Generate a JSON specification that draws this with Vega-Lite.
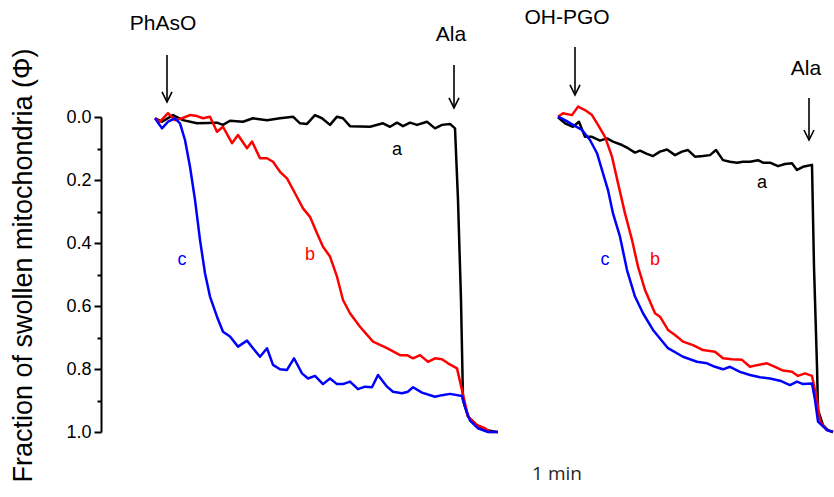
{
  "$schema": "https://vega.github.io/schema/vega-lite/v6.json",
  "width": 733,
  "height": 315,
  "autosize": {"type": "none"},
  "padding": {"left": 101, "top": 117, "right": 0, "bottom": 65},
  "background": "white",
  "config": {"view": {"stroke": null}, "font": "Liberation Sans"},
  "datasets": {
    "traces": [
      {"exp": "PhAsO", "trace": "a", "t": 55, "phi": 0.004}, {"exp": "PhAsO", "trace": "a", "t": 62, "phi": 0.015}, {"exp": "PhAsO", "trace": "a", "t": 73, "phi": -0.006}, {"exp": "PhAsO", "trace": "a", "t": 83, "phi": 0.01}, {"exp": "PhAsO", "trace": "a", "t": 97, "phi": 0.02}, {"exp": "PhAsO", "trace": "a", "t": 117, "phi": 0.018}, {"exp": "PhAsO", "trace": "a", "t": 123, "phi": 0.025}, {"exp": "PhAsO", "trace": "a", "t": 130, "phi": 0.012}, {"exp": "PhAsO", "trace": "a", "t": 143, "phi": 0.015}, {"exp": "PhAsO", "trace": "a", "t": 153, "phi": 0.004}, {"exp": "PhAsO", "trace": "a", "t": 167, "phi": 0.01}, {"exp": "PhAsO", "trace": "a", "t": 180, "phi": 0.004}, {"exp": "PhAsO", "trace": "a", "t": 193, "phi": -0.001}, {"exp": "PhAsO", "trace": "a", "t": 200, "phi": 0.02}, {"exp": "PhAsO", "trace": "a", "t": 207, "phi": 0.022}, {"exp": "PhAsO", "trace": "a", "t": 215, "phi": -0.006}, {"exp": "PhAsO", "trace": "a", "t": 222, "phi": 0.004}, {"exp": "PhAsO", "trace": "a", "t": 230, "phi": 0.025}, {"exp": "PhAsO", "trace": "a", "t": 237, "phi": -0.001}, {"exp": "PhAsO", "trace": "a", "t": 243, "phi": 0.004}, {"exp": "PhAsO", "trace": "a", "t": 250, "phi": 0.029}, {"exp": "PhAsO", "trace": "a", "t": 270, "phi": 0.031}, {"exp": "PhAsO", "trace": "a", "t": 283, "phi": 0.02}, {"exp": "PhAsO", "trace": "a", "t": 290, "phi": 0.031}, {"exp": "PhAsO", "trace": "a", "t": 297, "phi": 0.018}, {"exp": "PhAsO", "trace": "a", "t": 303, "phi": 0.029}, {"exp": "PhAsO", "trace": "a", "t": 310, "phi": 0.018}, {"exp": "PhAsO", "trace": "a", "t": 317, "phi": 0.025}, {"exp": "PhAsO", "trace": "a", "t": 327, "phi": 0.015}, {"exp": "PhAsO", "trace": "a", "t": 335, "phi": 0.036}, {"exp": "PhAsO", "trace": "a", "t": 342, "phi": 0.025}, {"exp": "PhAsO", "trace": "a", "t": 350, "phi": 0.022}, {"exp": "PhAsO", "trace": "a", "t": 355, "phi": 0.036}, {"exp": "PhAsO", "trace": "a", "t": 358, "phi": 0.263}, {"exp": "PhAsO", "trace": "a", "t": 361, "phi": 0.581}, {"exp": "PhAsO", "trace": "a", "t": 363, "phi": 0.898}, {"exp": "PhAsO", "trace": "a", "t": 368, "phi": 0.951}, {"exp": "PhAsO", "trace": "a", "t": 377, "phi": 0.978}, {"exp": "PhAsO", "trace": "a", "t": 387, "phi": 0.994}, {"exp": "PhAsO", "trace": "a", "t": 397, "phi": 1.0},

      {"exp": "PhAsO", "trace": "b", "t": 55, "phi": 0.004}, {"exp": "PhAsO", "trace": "b", "t": 60, "phi": 0.015}, {"exp": "PhAsO", "trace": "b", "t": 68, "phi": -0.012}, {"exp": "PhAsO", "trace": "b", "t": 75, "phi": 0.01}, {"exp": "PhAsO", "trace": "b", "t": 82, "phi": 0.004}, {"exp": "PhAsO", "trace": "b", "t": 90, "phi": -0.006}, {"exp": "PhAsO", "trace": "b", "t": 97, "phi": -0.003}, {"exp": "PhAsO", "trace": "b", "t": 103, "phi": 0.004}, {"exp": "PhAsO", "trace": "b", "t": 110, "phi": -0.001}, {"exp": "PhAsO", "trace": "b", "t": 117, "phi": 0.047}, {"exp": "PhAsO", "trace": "b", "t": 123, "phi": 0.031}, {"exp": "PhAsO", "trace": "b", "t": 132, "phi": 0.083}, {"exp": "PhAsO", "trace": "b", "t": 138, "phi": 0.057}, {"exp": "PhAsO", "trace": "b", "t": 147, "phi": 0.099}, {"exp": "PhAsO", "trace": "b", "t": 152, "phi": 0.078}, {"exp": "PhAsO", "trace": "b", "t": 160, "phi": 0.131}, {"exp": "PhAsO", "trace": "b", "t": 167, "phi": 0.131}, {"exp": "PhAsO", "trace": "b", "t": 173, "phi": 0.142}, {"exp": "PhAsO", "trace": "b", "t": 180, "phi": 0.174}, {"exp": "PhAsO", "trace": "b", "t": 187, "phi": 0.195}, {"exp": "PhAsO", "trace": "b", "t": 195, "phi": 0.242}, {"exp": "PhAsO", "trace": "b", "t": 203, "phi": 0.29}, {"exp": "PhAsO", "trace": "b", "t": 210, "phi": 0.317}, {"exp": "PhAsO", "trace": "b", "t": 217, "phi": 0.369}, {"exp": "PhAsO", "trace": "b", "t": 223, "phi": 0.412}, {"exp": "PhAsO", "trace": "b", "t": 230, "phi": 0.443}, {"exp": "PhAsO", "trace": "b", "t": 237, "phi": 0.507}, {"exp": "PhAsO", "trace": "b", "t": 243, "phi": 0.581}, {"exp": "PhAsO", "trace": "b", "t": 250, "phi": 0.623}, {"exp": "PhAsO", "trace": "b", "t": 260, "phi": 0.666}, {"exp": "PhAsO", "trace": "b", "t": 273, "phi": 0.713}, {"exp": "PhAsO", "trace": "b", "t": 287, "phi": 0.734}, {"exp": "PhAsO", "trace": "b", "t": 300, "phi": 0.756}, {"exp": "PhAsO", "trace": "b", "t": 307, "phi": 0.756}, {"exp": "PhAsO", "trace": "b", "t": 313, "phi": 0.766}, {"exp": "PhAsO", "trace": "b", "t": 320, "phi": 0.756}, {"exp": "PhAsO", "trace": "b", "t": 328, "phi": 0.777}, {"exp": "PhAsO", "trace": "b", "t": 335, "phi": 0.766}, {"exp": "PhAsO", "trace": "b", "t": 342, "phi": 0.769}, {"exp": "PhAsO", "trace": "b", "t": 348, "phi": 0.782}, {"exp": "PhAsO", "trace": "b", "t": 357, "phi": 0.798}, {"exp": "PhAsO", "trace": "b", "t": 362, "phi": 0.867}, {"exp": "PhAsO", "trace": "b", "t": 368, "phi": 0.951}, {"exp": "PhAsO", "trace": "b", "t": 377, "phi": 0.978}, {"exp": "PhAsO", "trace": "b", "t": 385, "phi": 0.988}, {"exp": "PhAsO", "trace": "b", "t": 390, "phi": 1.0}, {"exp": "PhAsO", "trace": "b", "t": 398, "phi": 1.0},

      {"exp": "PhAsO", "trace": "c", "t": 55, "phi": 0.004}, {"exp": "PhAsO", "trace": "c", "t": 62, "phi": 0.036}, {"exp": "PhAsO", "trace": "c", "t": 68, "phi": 0.015}, {"exp": "PhAsO", "trace": "c", "t": 75, "phi": 0.004}, {"exp": "PhAsO", "trace": "c", "t": 80, "phi": 0.02}, {"exp": "PhAsO", "trace": "c", "t": 85, "phi": 0.073}, {"exp": "PhAsO", "trace": "c", "t": 90, "phi": 0.158}, {"exp": "PhAsO", "trace": "c", "t": 95, "phi": 0.263}, {"exp": "PhAsO", "trace": "c", "t": 100, "phi": 0.39}, {"exp": "PhAsO", "trace": "c", "t": 105, "phi": 0.496}, {"exp": "PhAsO", "trace": "c", "t": 110, "phi": 0.57}, {"exp": "PhAsO", "trace": "c", "t": 117, "phi": 0.634}, {"exp": "PhAsO", "trace": "c", "t": 123, "phi": 0.682}, {"exp": "PhAsO", "trace": "c", "t": 130, "phi": 0.697}, {"exp": "PhAsO", "trace": "c", "t": 138, "phi": 0.729}, {"exp": "PhAsO", "trace": "c", "t": 147, "phi": 0.71}, {"exp": "PhAsO", "trace": "c", "t": 153, "phi": 0.734}, {"exp": "PhAsO", "trace": "c", "t": 160, "phi": 0.761}, {"exp": "PhAsO", "trace": "c", "t": 167, "phi": 0.734}, {"exp": "PhAsO", "trace": "c", "t": 173, "phi": 0.787}, {"exp": "PhAsO", "trace": "c", "t": 180, "phi": 0.801}, {"exp": "PhAsO", "trace": "c", "t": 187, "phi": 0.803}, {"exp": "PhAsO", "trace": "c", "t": 194, "phi": 0.766}, {"exp": "PhAsO", "trace": "c", "t": 202, "phi": 0.814}, {"exp": "PhAsO", "trace": "c", "t": 208, "phi": 0.83}, {"exp": "PhAsO", "trace": "c", "t": 215, "phi": 0.822}, {"exp": "PhAsO", "trace": "c", "t": 223, "phi": 0.848}, {"exp": "PhAsO", "trace": "c", "t": 230, "phi": 0.83}, {"exp": "PhAsO", "trace": "c", "t": 237, "phi": 0.848}, {"exp": "PhAsO", "trace": "c", "t": 243, "phi": 0.848}, {"exp": "PhAsO", "trace": "c", "t": 250, "phi": 0.84}, {"exp": "PhAsO", "trace": "c", "t": 258, "phi": 0.864}, {"exp": "PhAsO", "trace": "c", "t": 265, "phi": 0.856}, {"exp": "PhAsO", "trace": "c", "t": 272, "phi": 0.858}, {"exp": "PhAsO", "trace": "c", "t": 278, "phi": 0.819}, {"exp": "PhAsO", "trace": "c", "t": 287, "phi": 0.856}, {"exp": "PhAsO", "trace": "c", "t": 293, "phi": 0.872}, {"exp": "PhAsO", "trace": "c", "t": 302, "phi": 0.877}, {"exp": "PhAsO", "trace": "c", "t": 308, "phi": 0.872}, {"exp": "PhAsO", "trace": "c", "t": 313, "phi": 0.858}, {"exp": "PhAsO", "trace": "c", "t": 322, "phi": 0.875}, {"exp": "PhAsO", "trace": "c", "t": 335, "phi": 0.888}, {"exp": "PhAsO", "trace": "c", "t": 342, "phi": 0.883}, {"exp": "PhAsO", "trace": "c", "t": 350, "phi": 0.879}, {"exp": "PhAsO", "trace": "c", "t": 362, "phi": 0.886}, {"exp": "PhAsO", "trace": "c", "t": 365, "phi": 0.92}, {"exp": "PhAsO", "trace": "c", "t": 370, "phi": 0.964}, {"exp": "PhAsO", "trace": "c", "t": 378, "phi": 0.988}, {"exp": "PhAsO", "trace": "c", "t": 388, "phi": 1.0}, {"exp": "PhAsO", "trace": "c", "t": 398, "phi": 1.0},

      {"exp": "OH-PGO", "trace": "a", "t": 458, "phi": 0.001}, {"exp": "OH-PGO", "trace": "a", "t": 465, "phi": 0.02}, {"exp": "OH-PGO", "trace": "a", "t": 473, "phi": 0.031}, {"exp": "OH-PGO", "trace": "a", "t": 479, "phi": 0.015}, {"exp": "OH-PGO", "trace": "a", "t": 485, "phi": 0.063}, {"exp": "OH-PGO", "trace": "a", "t": 492, "phi": 0.063}, {"exp": "OH-PGO", "trace": "a", "t": 500, "phi": 0.075}, {"exp": "OH-PGO", "trace": "a", "t": 507, "phi": 0.068}, {"exp": "OH-PGO", "trace": "a", "t": 513, "phi": 0.078}, {"exp": "OH-PGO", "trace": "a", "t": 522, "phi": 0.089}, {"exp": "OH-PGO", "trace": "a", "t": 528, "phi": 0.099}, {"exp": "OH-PGO", "trace": "a", "t": 535, "phi": 0.113}, {"exp": "OH-PGO", "trace": "a", "t": 540, "phi": 0.107}, {"exp": "OH-PGO", "trace": "a", "t": 547, "phi": 0.117}, {"exp": "OH-PGO", "trace": "a", "t": 553, "phi": 0.124}, {"exp": "OH-PGO", "trace": "a", "t": 560, "phi": 0.11}, {"exp": "OH-PGO", "trace": "a", "t": 567, "phi": 0.103}, {"exp": "OH-PGO", "trace": "a", "t": 575, "phi": 0.121}, {"exp": "OH-PGO", "trace": "a", "t": 582, "phi": 0.11}, {"exp": "OH-PGO", "trace": "a", "t": 588, "phi": 0.105}, {"exp": "OH-PGO", "trace": "a", "t": 595, "phi": 0.126}, {"exp": "OH-PGO", "trace": "a", "t": 603, "phi": 0.124}, {"exp": "OH-PGO", "trace": "a", "t": 610, "phi": 0.121}, {"exp": "OH-PGO", "trace": "a", "t": 616, "phi": 0.105}, {"exp": "OH-PGO", "trace": "a", "t": 623, "phi": 0.137}, {"exp": "OH-PGO", "trace": "a", "t": 630, "phi": 0.142}, {"exp": "OH-PGO", "trace": "a", "t": 637, "phi": 0.145}, {"exp": "OH-PGO", "trace": "a", "t": 643, "phi": 0.142}, {"exp": "OH-PGO", "trace": "a", "t": 650, "phi": 0.142}, {"exp": "OH-PGO", "trace": "a", "t": 658, "phi": 0.137}, {"exp": "OH-PGO", "trace": "a", "t": 663, "phi": 0.145}, {"exp": "OH-PGO", "trace": "a", "t": 670, "phi": 0.145}, {"exp": "OH-PGO", "trace": "a", "t": 678, "phi": 0.156}, {"exp": "OH-PGO", "trace": "a", "t": 685, "phi": 0.149}, {"exp": "OH-PGO", "trace": "a", "t": 692, "phi": 0.147}, {"exp": "OH-PGO", "trace": "a", "t": 697, "phi": 0.168}, {"exp": "OH-PGO", "trace": "a", "t": 703, "phi": 0.158}, {"exp": "OH-PGO", "trace": "a", "t": 712, "phi": 0.152}, {"exp": "OH-PGO", "trace": "a", "t": 714, "phi": 0.475}, {"exp": "OH-PGO", "trace": "a", "t": 717, "phi": 0.793}, {"exp": "OH-PGO", "trace": "a", "t": 718, "phi": 0.93}, {"exp": "OH-PGO", "trace": "a", "t": 723, "phi": 0.978}, {"exp": "OH-PGO", "trace": "a", "t": 728, "phi": 0.994}, {"exp": "OH-PGO", "trace": "a", "t": 733, "phi": 1.0},

      {"exp": "OH-PGO", "trace": "b", "t": 458, "phi": -0.001}, {"exp": "OH-PGO", "trace": "b", "t": 463, "phi": -0.012}, {"exp": "OH-PGO", "trace": "b", "t": 472, "phi": -0.006}, {"exp": "OH-PGO", "trace": "b", "t": 478, "phi": -0.033}, {"exp": "OH-PGO", "trace": "b", "t": 485, "phi": -0.022}, {"exp": "OH-PGO", "trace": "b", "t": 492, "phi": -0.006}, {"exp": "OH-PGO", "trace": "b", "t": 498, "phi": 0.025}, {"exp": "OH-PGO", "trace": "b", "t": 505, "phi": 0.063}, {"exp": "OH-PGO", "trace": "b", "t": 512, "phi": 0.126}, {"exp": "OH-PGO", "trace": "b", "t": 518, "phi": 0.21}, {"exp": "OH-PGO", "trace": "b", "t": 525, "phi": 0.306}, {"exp": "OH-PGO", "trace": "b", "t": 532, "phi": 0.39}, {"exp": "OH-PGO", "trace": "b", "t": 538, "phi": 0.475}, {"exp": "OH-PGO", "trace": "b", "t": 545, "phi": 0.549}, {"exp": "OH-PGO", "trace": "b", "t": 555, "phi": 0.623}, {"exp": "OH-PGO", "trace": "b", "t": 560, "phi": 0.634}, {"exp": "OH-PGO", "trace": "b", "t": 568, "phi": 0.676}, {"exp": "OH-PGO", "trace": "b", "t": 575, "phi": 0.692}, {"exp": "OH-PGO", "trace": "b", "t": 583, "phi": 0.713}, {"exp": "OH-PGO", "trace": "b", "t": 593, "phi": 0.724}, {"exp": "OH-PGO", "trace": "b", "t": 603, "phi": 0.74}, {"exp": "OH-PGO", "trace": "b", "t": 615, "phi": 0.745}, {"exp": "OH-PGO", "trace": "b", "t": 623, "phi": 0.766}, {"exp": "OH-PGO", "trace": "b", "t": 632, "phi": 0.769}, {"exp": "OH-PGO", "trace": "b", "t": 642, "phi": 0.771}, {"exp": "OH-PGO", "trace": "b", "t": 650, "phi": 0.793}, {"exp": "OH-PGO", "trace": "b", "t": 658, "phi": 0.787}, {"exp": "OH-PGO", "trace": "b", "t": 667, "phi": 0.782}, {"exp": "OH-PGO", "trace": "b", "t": 675, "phi": 0.793}, {"exp": "OH-PGO", "trace": "b", "t": 683, "phi": 0.805}, {"exp": "OH-PGO", "trace": "b", "t": 692, "phi": 0.809}, {"exp": "OH-PGO", "trace": "b", "t": 698, "phi": 0.822}, {"exp": "OH-PGO", "trace": "b", "t": 705, "phi": 0.814}, {"exp": "OH-PGO", "trace": "b", "t": 712, "phi": 0.822}, {"exp": "OH-PGO", "trace": "b", "t": 717, "phi": 0.898}, {"exp": "OH-PGO", "trace": "b", "t": 720, "phi": 0.967}, {"exp": "OH-PGO", "trace": "b", "t": 727, "phi": 0.994}, {"exp": "OH-PGO", "trace": "b", "t": 733, "phi": 1.0},

      {"exp": "OH-PGO", "trace": "c", "t": 458, "phi": -0.001}, {"exp": "OH-PGO", "trace": "c", "t": 465, "phi": 0.01}, {"exp": "OH-PGO", "trace": "c", "t": 473, "phi": 0.025}, {"exp": "OH-PGO", "trace": "c", "t": 482, "phi": 0.041}, {"exp": "OH-PGO", "trace": "c", "t": 490, "phi": 0.073}, {"exp": "OH-PGO", "trace": "c", "t": 497, "phi": 0.115}, {"exp": "OH-PGO", "trace": "c", "t": 503, "phi": 0.179}, {"exp": "OH-PGO", "trace": "c", "t": 508, "phi": 0.232}, {"exp": "OH-PGO", "trace": "c", "t": 513, "phi": 0.306}, {"exp": "OH-PGO", "trace": "c", "t": 520, "phi": 0.38}, {"exp": "OH-PGO", "trace": "c", "t": 527, "phi": 0.486}, {"exp": "OH-PGO", "trace": "c", "t": 535, "phi": 0.57}, {"exp": "OH-PGO", "trace": "c", "t": 543, "phi": 0.623}, {"exp": "OH-PGO", "trace": "c", "t": 553, "phi": 0.676}, {"exp": "OH-PGO", "trace": "c", "t": 568, "phi": 0.734}, {"exp": "OH-PGO", "trace": "c", "t": 583, "phi": 0.761}, {"exp": "OH-PGO", "trace": "c", "t": 597, "phi": 0.777}, {"exp": "OH-PGO", "trace": "c", "t": 607, "phi": 0.782}, {"exp": "OH-PGO", "trace": "c", "t": 615, "phi": 0.793}, {"exp": "OH-PGO", "trace": "c", "t": 623, "phi": 0.801}, {"exp": "OH-PGO", "trace": "c", "t": 630, "phi": 0.793}, {"exp": "OH-PGO", "trace": "c", "t": 640, "phi": 0.809}, {"exp": "OH-PGO", "trace": "c", "t": 650, "phi": 0.819}, {"exp": "OH-PGO", "trace": "c", "t": 660, "phi": 0.826}, {"exp": "OH-PGO", "trace": "c", "t": 670, "phi": 0.83}, {"exp": "OH-PGO", "trace": "c", "t": 680, "phi": 0.837}, {"exp": "OH-PGO", "trace": "c", "t": 690, "phi": 0.851}, {"exp": "OH-PGO", "trace": "c", "t": 697, "phi": 0.84}, {"exp": "OH-PGO", "trace": "c", "t": 703, "phi": 0.848}, {"exp": "OH-PGO", "trace": "c", "t": 712, "phi": 0.846}, {"exp": "OH-PGO", "trace": "c", "t": 715, "phi": 0.898}, {"exp": "OH-PGO", "trace": "c", "t": 718, "phi": 0.967}, {"exp": "OH-PGO", "trace": "c", "t": 727, "phi": 0.994}, {"exp": "OH-PGO", "trace": "c", "t": 733, "phi": 1.0}
    ],
    "letters": [
      {"trace": "a", "t": 297, "phi": 0.105}, {"trace": "b", "t": 210, "phi": 0.438}, {"trace": "c", "t": 82, "phi": 0.454},
      {"trace": "a", "t": 662, "phi": 0.21}, {"trace": "b", "t": 555, "phi": 0.454}, {"trace": "c", "t": 505, "phi": 0.454}
    ],
    "additions": [
      {"label": "PhAsO", "t": 63, "phi": -0.295, "shaft": 67, "top": -0.197, "tip": -0.048},
      {"label": "Ala", "t": 351, "phi": -0.26, "shaft": 354, "top": -0.165, "tip": -0.029},
      {"label": "OH-PGO", "t": 467, "phi": -0.314, "shaft": 475, "top": -0.222, "tip": -0.07},
      {"label": "Ala", "t": 706, "phi": -0.152, "shaft": 709, "top": -0.06, "tip": 0.073}
    ],
    "timescale": [{"label": "1 min", "t": 457, "phi": 1.133}]
  },
  "resolve": {"axis": {"y": "independent"}},
  "layer": [
    {
      "data": {"name": "traces"},
      "mark": {"type": "line", "strokeWidth": 2.5, "strokeJoin": "round"},
      "encoding": {
        "x": {"field": "t", "type": "quantitative", "scale": {"domain": [1, 734], "nice": false, "zero": false}, "axis": null},
        "y": {
          "field": "phi", "type": "quantitative",
          "scale": {"domain": [0, 1], "reverse": true, "nice": false, "zero": false},
          "axis": {
            "orient": "left",
            "values": [0, 0.2, 0.4, 0.6, 0.8, 1.0],
            "format": ".1f",
            "grid": false,
            "labelFontSize": 18,
            "labelColor": "#000000",
            "labelPadding": 3,
            "tickSize": 7,
            "tickWidth": 2,
            "tickColor": "#000000",
            "domainColor": "#000000",
            "domainWidth": 2,
            "title": "Fraction of swollen mitochondria (Φ)",
            "titleFontSize": 27,
            "titleFontWeight": "normal",
            "titleColor": "#000000",
            "titleAngle": 270,
            "titleAlign": "center",
            "titleBaseline": "middle",
            "titleX": -78,
            "titleY": 148
          }
        },
        "color": {"field": "trace", "type": "nominal", "scale": {"domain": ["a", "b", "c"], "range": ["#000000", "#ff0000", "#0000ff"]}, "legend": null},
        "detail": {"field": "exp"}
      }
    },
    {
      "data": {"name": "letters"},
      "mark": {"type": "text", "fontSize": 18, "baseline": "middle", "align": "center"},
      "encoding": {
        "x": {"field": "t", "type": "quantitative"},
        "y": {
          "field": "phi", "type": "quantitative",
          "axis": {
            "orient": "left",
            "values": [0.1, 0.3, 0.5, 0.7, 0.9],
            "labels": false,
            "domain": false,
            "grid": false,
            "tickSize": 4,
            "tickWidth": 2,
            "tickColor": "#000000",
            "title": null
          }
        },
        "text": {"field": "trace"},
        "color": {"field": "trace", "type": "nominal", "legend": null}
      }
    },
    {
      "data": {"name": "additions"},
      "mark": {"type": "rule", "strokeWidth": 1.6, "color": "#000000"},
      "encoding": {
        "x": {"field": "shaft", "type": "quantitative"},
        "y": {"field": "top", "type": "quantitative", "axis": null},
        "y2": {"field": "tip"}
      }
    },
    {
      "data": {"name": "additions"},
      "mark": {"type": "point", "shape": "M-1,-2L0,0L1,-2", "size": 100, "filled": false, "stroke": "#000000", "strokeWidth": 1.6, "opacity": 1},
      "encoding": {
        "x": {"field": "shaft", "type": "quantitative"},
        "y": {"field": "tip", "type": "quantitative", "axis": null}
      }
    },
    {
      "data": {"name": "additions"},
      "mark": {"type": "text", "fontSize": 21, "baseline": "middle", "align": "center", "color": "#000000"},
      "encoding": {
        "x": {"field": "t", "type": "quantitative"},
        "y": {"field": "phi", "type": "quantitative", "axis": null},
        "text": {"field": "label"}
      }
    },
    {
      "data": {"name": "timescale"},
      "mark": {"type": "text", "fontSize": 19, "baseline": "middle", "align": "center", "color": "#262626", "font": "Open Sans"},
      "encoding": {
        "x": {"field": "t", "type": "quantitative"},
        "y": {"field": "phi", "type": "quantitative", "axis": null},
        "text": {"field": "label"}
      }
    }
  ]
}
